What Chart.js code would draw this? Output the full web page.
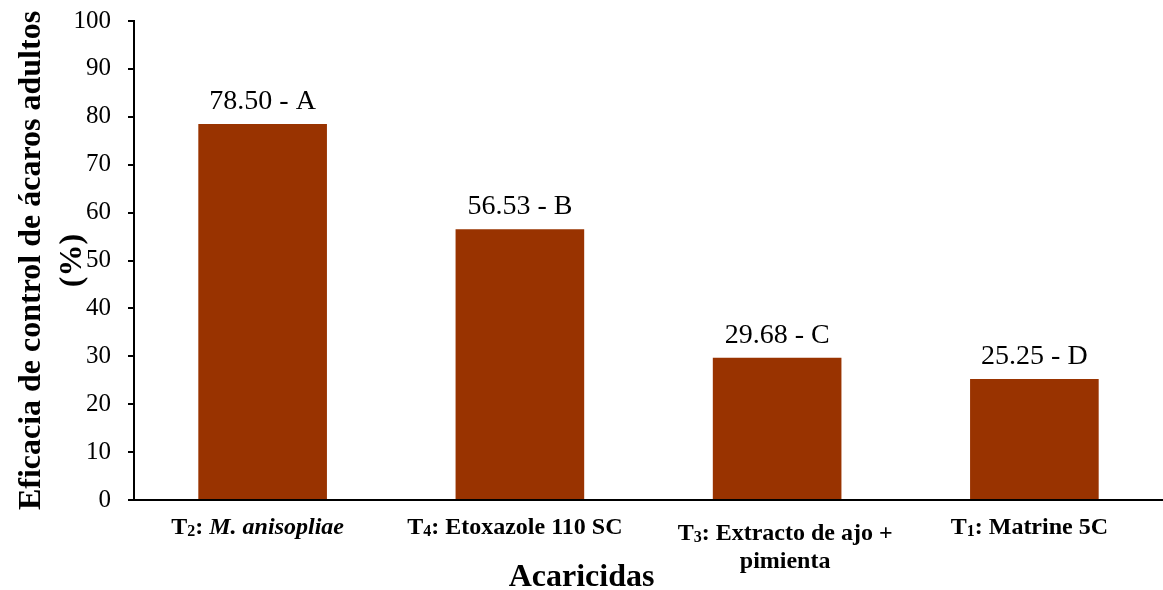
<!DOCTYPE html>
<html><head><meta charset="utf-8">
<script src="https://cdn.jsdelivr.net/npm/chart.js@4/dist/chart.umd.min.js"></script>
<style>html,body{margin:0;padding:0;background:#fff}#wrap{width:1163px;height:590px}</style>
</head><body><div id="wrap"><canvas id="c" width="1163" height="590"></canvas></div>
<script>
const categories = ['T2: M. anisopliae', 'T4: Etoxazole 110 SC', 'T3: Extracto de ajo + pimienta', 'T1: Matrine 5C'];
const catPrefix = ['T', 'T', 'T', 'T'];
const catSub = ['2', '4', '3', '1'];
const catRest = [[': ', 'M. anisopliae'], [': Etoxazole 110 SC', ''], [': Extracto de ajo +', ''], [': Matrine 5C', '']];
const catLine2 = ['', '', 'pimienta', ''];
const values = [78.50, 56.53, 29.68, 25.25];
const letters = ['A', 'B', 'C', 'D'];
const yTicks = [0, 10, 20, 30, 40, 50, 60, 70, 80, 90, 100];
const xTitle = 'Acaricidas';
const yTitle = ['Eficacia de control de ácaros adultos', '(%)'];

const SERIF = '"Liberation Serif", "Times New Roman", serif';

const labelPlugin = {
  id: 'labels',
  afterDatasetsDraw(chart) {
    const ctx = chart.ctx;
    const meta = chart.getDatasetMeta(0);
    ctx.save();
    ctx.fillStyle = '#000';
    ctx.textBaseline = 'alphabetic';
    // value labels
    ctx.textAlign = 'center';
    ctx.font = '28px ' + SERIF;
    meta.data.forEach((bar, i) => {
      ctx.fillText(values[i].toFixed(2) + ' - ' + letters[i], bar.x, bar.y - 15);
    });
    // category labels
    const xs = chart.scales.x;
    const base = chart.chartArea.bottom;
    const fs = 24;
    meta.data.forEach((bar, i) => {
      const wrapped = !!catLine2[i];
      const cx = xs.getPixelForValue(i) + (wrapped ? 8 : -5);
      const y1 = base + (wrapped ? 40 : 34);
      const parts = [
        {t: catPrefix[i], f: 'bold ' + fs + 'px ' + SERIF, dy: 0},
        {t: catSub[i], f: 'bold ' + Math.round(fs * 0.66) + 'px ' + SERIF, dy: 2},
        {t: catRest[i][0], f: 'bold ' + fs + 'px ' + SERIF, dy: 0},
        {t: catRest[i][1], f: 'italic bold ' + fs + 'px ' + SERIF, dy: 0}
      ];
      let w = 0;
      parts.forEach(p => { ctx.font = p.f; p.w = ctx.measureText(p.t).width; w += p.w; });
      let x = cx - w / 2;
      ctx.textAlign = 'left';
      parts.forEach(p => { ctx.font = p.f; ctx.fillText(p.t, x, y1 + p.dy); x += p.w; });
      if (wrapped) {
        ctx.textAlign = 'center';
        ctx.font = 'bold ' + fs + 'px ' + SERIF;
        ctx.fillText(catLine2[i], cx, y1 + 28);
      }
    });
    // x axis title, centred on the whole canvas
    ctx.textAlign = 'center';
    ctx.font = 'bold 32px ' + SERIF;
    ctx.fillText(xTitle, chart.width / 2, 586);
    ctx.restore();
  }
};

new Chart(document.getElementById('c'), {
  type: 'bar',
  data: {
    labels: categories,
    datasets: [{
      data: values,
      backgroundColor: '#993300',
      borderWidth: 0,
      categoryPercentage: 1.0,
      barPercentage: 0.5
    }]
  },
  options: {
    responsive: false,
    animation: false,
    devicePixelRatio: 1,
    layout: { padding: { top: 0, right: -3, left: 0, bottom: 0 } },
    plugins: { legend: { display: false }, tooltip: { enabled: false } },
    scales: {
      x: {
        grid: { display: false, drawTicks: false },
        border: { display: true, color: '#000', width: 2 },
        ticks: { display: false },
        afterFit(scale) { scale.height = 90; }
      },
      y: {
        min: 0, max: 100,
        afterBuildTicks(scale) { scale.ticks = yTicks.map(v => ({ value: v })); },
        afterFit(scale) { scale.width = 134; scale.paddingTop = 21; },
        grid: { drawOnChartArea: false, drawTicks: true, tickLength: 6, color: '#000', lineWidth: 2 },
        border: { display: true, color: '#000', width: 2 },
        ticks: { color: '#000', font: { family: SERIF, size: 25 }, padding: 17 },
        title: {
          display: true,
          text: yTitle,
          color: '#000',
          font: { family: SERIF, size: 32, weight: 'bold', lineHeight: 1.28 },
          padding: { top: 11, bottom: 0 }
        }
      }
    }
  },
  plugins: [labelPlugin]
});
</script></body></html>
